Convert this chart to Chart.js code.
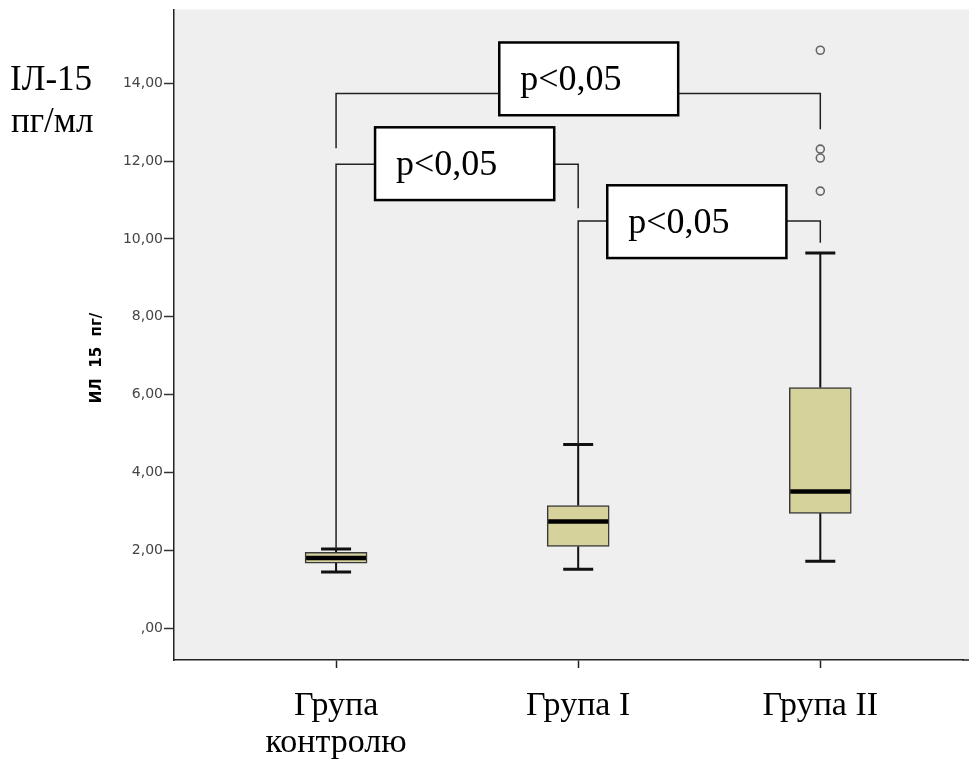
<!DOCTYPE html>
<html>
<head>
<meta charset="utf-8">
<script src="https://cdn.jsdelivr.net/npm/chart.js@4.4.1/dist/chart.umd.min.js"></script>
<style>
  html, body { margin: 0; padding: 0; background: #fff; }
  #wrap { position: relative; width: 969px; height: 772px; }
</style>
</head>
<body>
<div id="wrap"><canvas id="boxChart" width="969" height="772"></canvas></div>
<script>
// categories and box statistics
const categories = [['Група', 'контролю'], ['Група І'], ['Група ІІ']];
const groupPos = [1, 2, 3];
const whiskerLow = [1.44, 1.51, 1.72];
const q1 = [1.67, 2.10, 2.95];
const median = [1.80, 2.74, 3.51];
const q3 = [1.95, 3.15, 6.18];
const whiskerHigh = [2.03, 4.72, 9.64];

// outliers (group II)
const outlierGroup = [3, 3, 3, 3];
const outlierValues = [14.85, 12.31, 12.08, 11.23];

// y axis ticks
const yTicks = [0, 2, 4, 6, 8, 10, 12, 14];
const yTickLabels = [',00', '2,00', '4,00', '6,00', '8,00', '10,00', '12,00', '14,00'];

// significance brackets (in data units)
const pLabels = ['p<0,05', 'p<0,05', 'p<0,05'];
const brackets = [
  { from: 1, to: 3, level: 13.74, fromEnd: 12.33, toEnd: 12.82, box: [1.674, 2.413, 15.05, 13.18] },
  { from: 1, to: 2, level: 11.92, fromEnd: 2.03, toEnd: 10.79, box: [1.161, 1.901, 12.87, 11.00] },
  { from: 2, to: 3, level: 10.46, fromEnd: 4.72, toEnd: 9.90, box: [2.120, 2.860, 11.38, 9.51] }
];

const boxData = groupPos.map((x, i) => ({ x: x, y: [q1[i], q3[i]] }));
const outlierData = outlierGroup.map((x, i) => ({ x: x, y: outlierValues[i] }));

// gray plot background, running to the right edge of the picture
const plotBackground = {
  id: 'plotBackground',
  beforeDraw(chart) {
    const { ctx, chartArea } = chart;
    ctx.save();
    ctx.fillStyle = '#efefef';
    ctx.fillRect(chartArea.left, chartArea.top, chart.width - chartArea.left, chartArea.bottom - chartArea.top);
    ctx.restore();
  },
  afterDraw(chart) {
    const { ctx, chartArea } = chart;
    ctx.save();
    ctx.strokeStyle = '#222';
    ctx.lineWidth = 1.5;
    ctx.beginPath();
    ctx.moveTo(chartArea.right - 1, chartArea.bottom);
    ctx.lineTo(chart.width, chartArea.bottom);
    ctx.stroke();
    ctx.restore();
  }
};

// whiskers, medians, brackets and side labels
const boxExtras = {
  id: 'boxExtras',
  afterDatasetsDraw(chart) {
    const { ctx } = chart;
    const xs = chart.scales.x;
    const ys = chart.scales.y;
    ctx.save();

    // whiskers
    groupPos.forEach((g, i) => {
      const cx = xs.getPixelForValue(g);
      ctx.strokeStyle = '#111';
      ctx.lineWidth = 2;
      ctx.beginPath();
      ctx.moveTo(cx, ys.getPixelForValue(q3[i]));
      ctx.lineTo(cx, ys.getPixelForValue(whiskerHigh[i]));
      ctx.moveTo(cx, ys.getPixelForValue(q1[i]));
      ctx.lineTo(cx, ys.getPixelForValue(whiskerLow[i]));
      ctx.stroke();
      ctx.lineWidth = 3;
      ctx.beginPath();
      [whiskerHigh[i], whiskerLow[i]].forEach(v => {
        const py = ys.getPixelForValue(v);
        ctx.moveTo(cx - 15, py);
        ctx.lineTo(cx + 15, py);
      });
      ctx.stroke();
      // median
      ctx.lineWidth = 4.5;
      ctx.strokeStyle = '#000';
      ctx.beginPath();
      const my = ys.getPixelForValue(median[i]);
      ctx.moveTo(cx - 30, my);
      ctx.lineTo(cx + 30, my);
      ctx.stroke();
    });

    // brackets
    brackets.forEach((b, i) => {
      const x1 = xs.getPixelForValue(b.from);
      const x2 = xs.getPixelForValue(b.to);
      const ly = ys.getPixelForValue(b.level);
      ctx.strokeStyle = '#222';
      ctx.lineWidth = 1.5;
      ctx.beginPath();
      ctx.moveTo(x1, ys.getPixelForValue(b.fromEnd));
      ctx.lineTo(x1, ly);
      ctx.lineTo(x2, ly);
      ctx.lineTo(x2, ys.getPixelForValue(b.toEnd));
      ctx.stroke();

      const bx1 = xs.getPixelForValue(b.box[0]);
      const bx2 = xs.getPixelForValue(b.box[1]);
      const by1 = ys.getPixelForValue(b.box[2]);
      const by2 = ys.getPixelForValue(b.box[3]);
      ctx.fillStyle = '#fff';
      ctx.fillRect(bx1, by1, bx2 - bx1, by2 - by1);
      ctx.strokeStyle = '#000';
      ctx.lineWidth = 2.5;
      ctx.strokeRect(bx1, by1, bx2 - bx1, by2 - by1);
      ctx.fillStyle = '#000';
      ctx.font = '36px "Liberation Serif"';
      ctx.textAlign = 'left';
      ctx.textBaseline = 'alphabetic';
      ctx.fillText(pLabels[i], bx1 + 21, (by1 + by2) / 2 + 11);
    });

    // y axis title
    ctx.save();
    ctx.translate(97, 358);
    ctx.rotate(-Math.PI / 2);
    ctx.font = 'bold 15px "DejaVu Sans"';
    ctx.fillStyle = '#000';
    ctx.textAlign = 'center';
    ctx.textBaseline = 'middle';
    ctx.fillText('ИЛ  15  пг/', 0, 0);
    ctx.restore();

    // label at top left
    ctx.font = '35px "Liberation Serif"';
    ctx.fillStyle = '#000';
    ctx.textAlign = 'left';
    ctx.textBaseline = 'alphabetic';
    ctx.fillText('ІЛ-15', 10, 90);
    ctx.fillText('пг/мл', 11, 132);
    ctx.restore();
  }
};

new Chart(document.getElementById('boxChart'), {
  type: 'bar',
  data: {
    datasets: [
      {
        type: 'bar',
        data: boxData,
        backgroundColor: '#d6d29b',
        borderColor: '#3a3a3a',
        borderWidth: 1.5,
        borderSkipped: false,
        barThickness: 62
      },
      {
        type: 'scatter',
        data: outlierData,
        pointStyle: 'circle',
        pointRadius: 4,
        pointBorderWidth: 1.6,
        pointBorderColor: '#666',
        pointBackgroundColor: 'rgba(0,0,0,0)'
      }
    ]
  },
  options: {
    responsive: false,
    animation: false,
    layout: { padding: { top: 8, left: 0, right: 0, bottom: 0 } },
    plugins: {
      legend: { display: false },
      tooltip: { enabled: false }
    },
    scales: {
      x: {
        type: 'linear',
        offset: false,
        min: 0.3306,
        max: 3.591,
        afterBuildTicks: scale => { scale.ticks = groupPos.map(v => ({ value: v })); },
        afterFit: scale => { scale.height = 112; },
        ticks: {
          callback: (v) => categories[groupPos.indexOf(v)],
          font: { family: 'Liberation Serif', size: 34, lineHeight: 1.1 },
          color: '#000',
          padding: 19,
          maxRotation: 0,
          autoSkip: false
        },
        grid: { offset: false, drawOnChartArea: false, drawTicks: true, tickLength: 8, tickColor: '#222', tickWidth: 1.5 },
        border: { display: true, color: '#222', width: 1.5 }
      },
      y: {
        min: -0.82,
        max: 15.9,
        afterBuildTicks: scale => { scale.ticks = yTicks.map(v => ({ value: v })); },
        afterFit: scale => { scale.width = 174; },
        ticks: {
          callback: (v) => yTickLabels[yTicks.indexOf(v)],
          font: { family: 'DejaVu Sans', size: 14 },
          color: '#444',
          padding: 1
        },
        grid: { drawOnChartArea: false, drawTicks: true, tickLength: 10, tickColor: '#333', tickWidth: 1.5 },
        border: { display: true, color: '#222', width: 1.5 }
      }
    }
  },
  plugins: [plotBackground, boxExtras]
});
</script>
</body>
</html>
